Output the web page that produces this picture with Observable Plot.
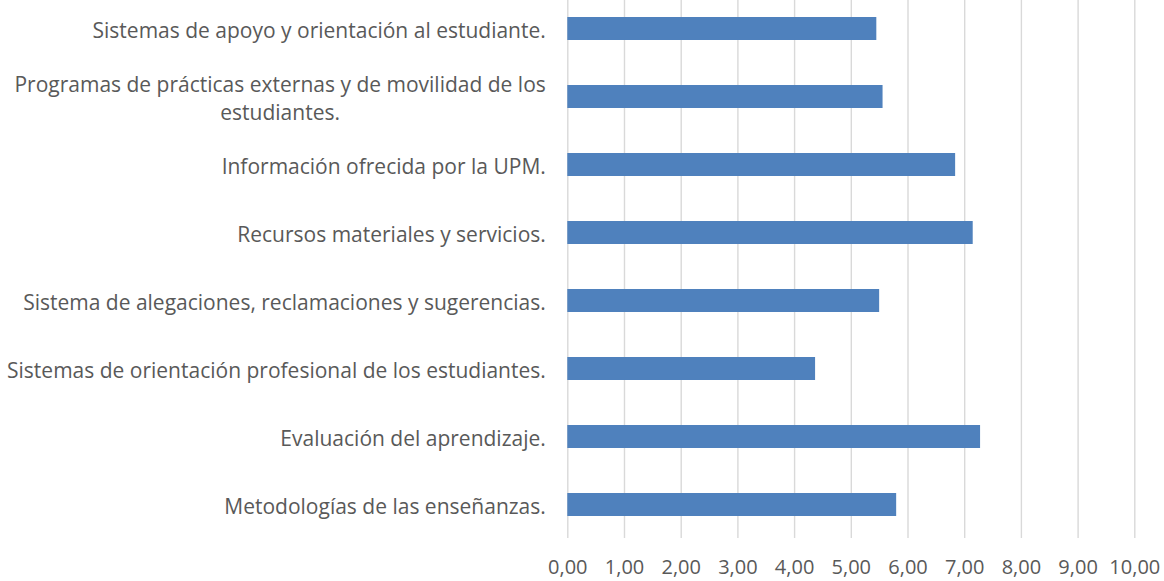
<!DOCTYPE html>
<html><head><meta charset="utf-8">
<script src="https://cdn.jsdelivr.net/npm/d3@7"></script>
<script src="https://cdn.jsdelivr.net/npm/@observablehq/plot@0.6"></script>
<style>html,body{margin:0;padding:0;background:#fff;} #chart svg{display:block}</style>
</head><body><div id="chart"></div>
<script>
const categories = [
  "Sistemas de apoyo y orientación al estudiante.",
  "Programas de prácticas externas y de movilidad de los estudiantes.",
  "Información ofrecida por la UPM.",
  "Recursos materiales y servicios.",
  "Sistema de alegaciones, reclamaciones y sugerencias.",
  "Sistemas de orientación profesional de los estudiantes.",
  "Evaluación del aprendizaje.",
  "Metodologías de las enseñanzas."
];
const categoryLabels = [
  "Sistemas de apoyo y orientación al estudiante.",
  "Programas de prácticas externas y de movilidad de los\nestudiantes.",
  "Información ofrecida por la UPM.",
  "Recursos materiales y servicios.",
  "Sistema de alegaciones, reclamaciones y sugerencias.",
  "Sistemas de orientación profesional de los estudiantes.",
  "Evaluación del aprendizaje.",
  "Metodologías de las enseñanzas."
];
const values = [5.45, 5.56, 6.84, 7.15, 5.50, 4.37, 7.28, 5.80];
const xTicks = [0, 1, 2, 3, 4, 5, 6, 7, 8, 9, 10];
const xTickLabels = ["0,00","1,00","2,00","3,00","4,00","5,00","6,00","7,00","8,00","9,00","10,00"];

const data = categories.map((c, i) => ({category: c, value: values[i]}));

const chart = Plot.plot({
  width: 1164,
  height: 581,
  marginLeft: 567.3,
  marginRight: 29.7,
  marginTop: 0,
  marginBottom: 43,
  style: {fontFamily: "'Open Sans', sans-serif", fontSize: "20px", color: "#595959", background: "#fff"},
  x: {domain: [0, 10]},
  y: {domain: categories, range: [-5, 539], paddingInner: 0.656, paddingOuter: 0.328, align: 0.5},
  marks: [
    Plot.ruleX(xTicks, {stroke: "#d9d9d9", strokeWidth: 1.4}),
    Plot.barX(data, {x: "value", y: "category", fill: "#4f81bd"}),
    Plot.axisX({ticks: xTicks, tickSize: 0, tickPadding: 21, fontSize: 20, tickFormat: d => xTickLabels[xTicks.indexOf(d)], fill: "#595959", label: null}),
    Plot.axisY({tickSize: 0, tickPadding: 22, fontSize: 21, tickFormat: d => categoryLabels[categories.indexOf(d)], fill: "#595959", label: null, lineHeight: 1.33})
  ]
});
document.getElementById("chart").appendChild(chart);

// Center wrapped label lines within their block (as in the original)
chart.querySelectorAll('g[aria-label="y-axis tick label"] text').forEach(t => {
  const tspans = t.querySelectorAll("tspan");
  if (tspans.length > 1) {
    let maxW = 0;
    tspans.forEach(s => { maxW = Math.max(maxW, s.getComputedTextLength()); });
    t.setAttribute("text-anchor", "middle");
    tspans.forEach(s => s.setAttribute("x", -maxW / 2));
  }
});
</script>
</body></html>
